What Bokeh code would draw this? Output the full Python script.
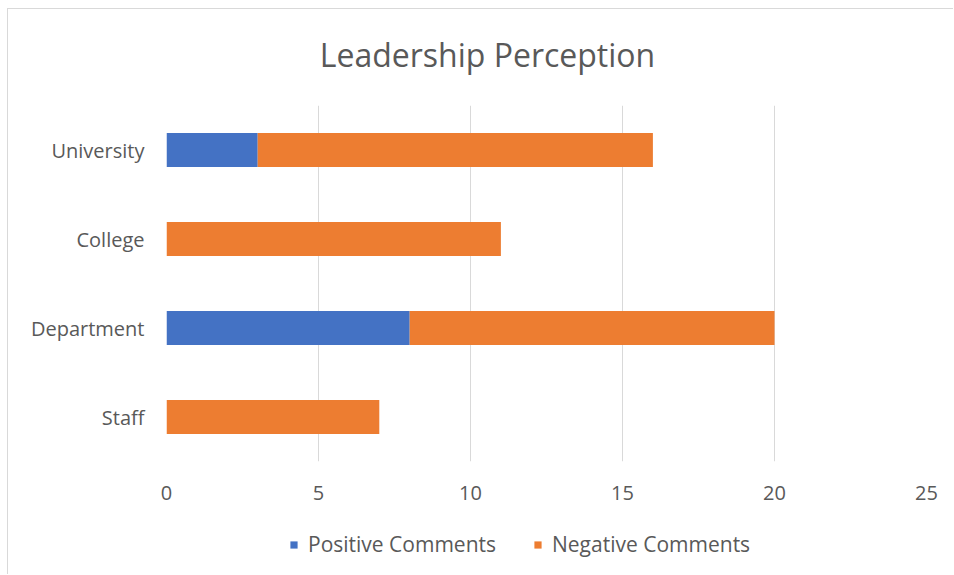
from bokeh.plotting import figure
from bokeh.models import Legend, LegendItem, FactorRange, Range1d, ColumnDataSource, Spacer, Label
from bokeh.layouts import column, row
from bokeh.embed import file_html
from bokeh.resources import INLINE

title_text = "Leadership Perception"
categories = ["University", "College", "Department", "Staff"]
positive = [3, 0, 8, 0]
negative = [13, 11, 12, 7]
series = ["positive", "negative"]
series_labels = ["Positive Comments", "Negative Comments"]
colors = ["#4472C4", "#ED7D31"]
x_ticks = [0, 5, 10, 15, 20, 25]

FONT = "Open Sans"
TXT = "#595959"

src = ColumnDataSource(dict(cat=categories, positive=positive, negative=negative))

# title strip
t = figure(width=945, height=96, output_backend="svg", toolbar_location=None, title=None,
           x_range=Range1d(0, 1), y_range=Range1d(0, 1),
           x_axis_location=None, y_axis_location=None, min_border=0)
t.outline_line_color = None
t.xgrid.visible = False
t.ygrid.visible = False
t.add_layout(Label(x=321, y=51, x_units="screen", y_units="screen", text=title_text,
                   text_align="center", text_baseline="middle", text_font=FONT,
                   text_font_size="32px", text_color=TXT))

# main chart
p = figure(width=945, height=415, output_backend="svg", toolbar_location=None, title=None,
           y_range=FactorRange(*reversed(categories)), x_range=Range1d(0, 25),
           min_border_left=158, min_border_right=27, min_border_top=0, min_border_bottom=59)

rs = p.hbar_stack(series, y="cat", height=0.38, color=colors, source=src, line_width=0)

p.xaxis.ticker = x_ticks
p.xaxis.axis_line_color = None
p.xaxis.major_tick_line_color = None
p.xaxis.minor_tick_line_color = None
p.xaxis.major_label_standoff = 18
p.xaxis.major_label_text_font = FONT
p.xaxis.major_label_text_font_size = "20px"
p.xaxis.major_label_text_color = TXT

p.yaxis.axis_line_color = None
p.yaxis.major_tick_line_color = None
p.yaxis.major_label_standoff = 16
p.yaxis.major_label_text_font = FONT
p.yaxis.major_label_text_font_size = "20px"
p.yaxis.major_label_text_color = TXT

p.xgrid.grid_line_color = "#d9d9d9"
p.xgrid.grid_line_width = 1
p.ygrid.grid_line_color = None
p.outline_line_color = None

# legend strip below the chart (same colours as the series);
# its swatch renderers sit outside the strip's visible range
q = figure(width=945, height=54, output_backend="svg", toolbar_location=None, title=None,
           x_range=Range1d(0, 1), y_range=Range1d(0, 1),
           x_axis_location=None, y_axis_location=None, min_border=0)
q.outline_line_color = None
q.xgrid.visible = False
q.ygrid.visible = False
swatches = [q.hbar(y=[-5], left=[0], right=[0], height=0.5, color=colors[i], line_width=0)
            for i in range(2)]

legend = Legend(items=[LegendItem(label=series_labels[i], renderers=[swatches[i]]) for i in range(2)],
                orientation="horizontal", location=(123, 16),
                glyph_width=9, glyph_height=9, label_text_font=FONT,
                label_text_font_size="21px", label_text_color=TXT,
                spacing=37, padding=0, margin=0, border_line_color=None,
                background_fill_alpha=0, label_standoff=10)
q.add_layout(legend, "center")

inner = column(t, p, q, spacing=0,
               styles={"border-left": "1px solid #d9d9d9", "border-top": "1px solid #d9d9d9"})
layout = column(Spacer(height=8), row(Spacer(width=7), inner))

open("out.html", "w").write(file_html(layout, INLINE))
